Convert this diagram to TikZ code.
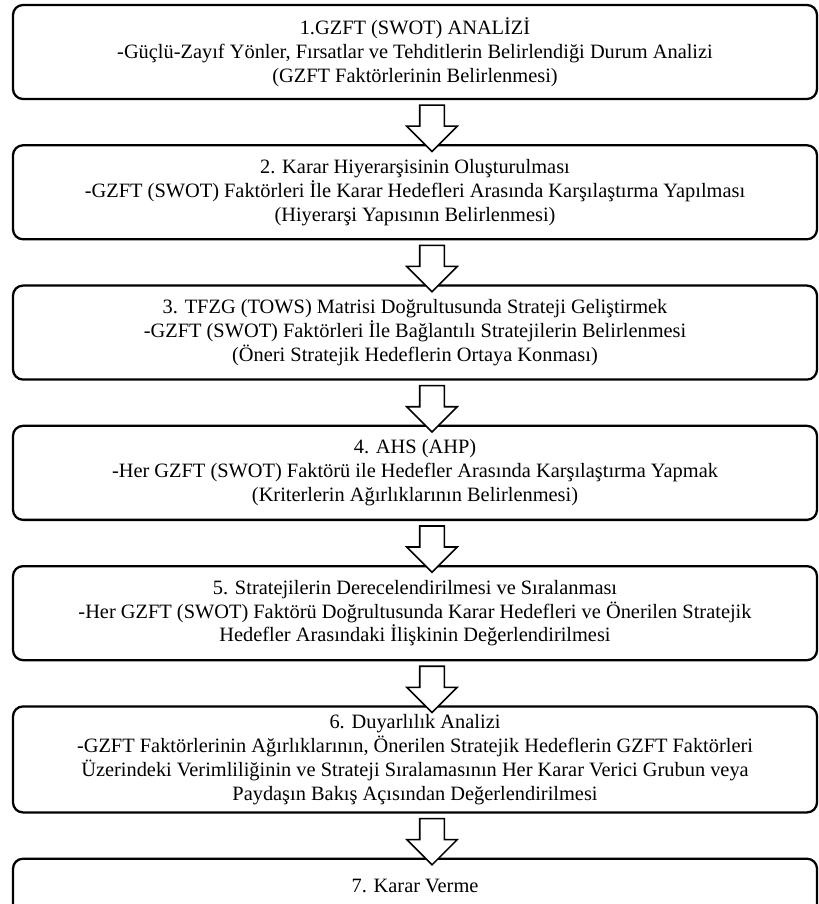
\documentclass[tikz,border=0pt]{standalone}
\usepackage{fontspec}
\setmainfont{Liberation Serif}
\usetikzlibrary{shapes,arrows,positioning}
\tikzstyle{stage} = [rectangle, rounded corners=0.2cm, minimum width=16.08cm, minimum height=1.88cm, inner ysep=2pt, line width=1.3pt, draw=black, align=center, font=\fontsize{11.6}{13.6}\selectfont]
\tikzstyle{hollow} = [single arrow, draw=black, fill=white, line width=0.9pt, rotate=-90, inner xsep=0pt, inner ysep=0.23cm, minimum height=0.926cm, single arrow head extend=0.26cm]

\begin{document}
\begin{tikzpicture}
        \useasboundingbox (0,0) rectangle (16.36,-18.08);

        \node (1) [stage] at (8.3,-1.04) {1.GZFT (SWOT) ANALİZİ \\ -Güçlü-Zayıf Yönler, Fırsatlar ve Tehditlerin Belirlendiği Durum Analizi \\ (GZFT Faktörlerinin Belirlenmesi)};
        \node (2) [stage, below=0.88cm of 1] {2. Karar Hiyerarşisinin Oluşturulması \\ -GZFT (SWOT) Faktörleri İle Karar Hedefleri Arasında Karşılaştırma Yapılması \\ (Hiyerarşi Yapısının Belirlenmesi)};
        \node (3) [stage, below=0.88cm of 2] {3. TFZG (TOWS) Matrisi Doğrultusunda Strateji Geliştirmek \\ -GZFT (SWOT) Faktörleri İle Bağlantılı Stratejilerin Belirlenmesi \\ (Öneri Stratejik Hedeflerin Ortaya Konması)};
        \node (4) [stage, below=0.88cm of 3] {4. AHS (AHP) \\ -Her GZFT (SWOT) Faktörü ile Hedefler Arasında Karşılaştırma Yapmak \\ (Kriterlerin Ağırlıklarının Belirlenmesi)};
        \node (5) [stage, below=0.88cm of 4] {5. Stratejilerin Derecelendirilmesi ve Sıralanması \\ -Her GZFT (SWOT) Faktörü Doğrultusunda Karar Hedefleri ve Önerilen Stratejik \\ Hedefler Arasındaki İlişkinin Değerlendirilmesi};
        \node (6) [stage, below=0.88cm of 5, minimum height=2.12cm] {6. Duyarlılık Analizi \\ -GZFT Faktörlerinin Ağırlıklarının, Önerilen Stratejik Hedeflerin GZFT Faktörleri \\ Üzerindeki Verimliliğinin ve Strateji Sıralamasının Her Karar Verici Grubun veya \\ Paydaşın Bakış Açısından Değerlendirilmesi};
        \node (7) [stage, below=0.88cm of 6, minimum height=1.1cm] {7. Karar Verme};

        \path ([xshift=0.34cm]1.south) -- ([xshift=0.34cm]2.north) node[midway, hollow] {};
        \path ([xshift=0.34cm]2.south) -- ([xshift=0.34cm]3.north) node[midway, hollow] {};
        \path ([xshift=0.34cm]3.south) -- ([xshift=0.34cm]4.north) node[midway, hollow] {};
        \path ([xshift=0.34cm]4.south) -- ([xshift=0.34cm]5.north) node[midway, hollow] {};
        \path ([xshift=0.34cm]5.south) -- ([xshift=0.34cm]6.north) node[midway, hollow] {};
        \path ([xshift=0.34cm]6.south) -- ([xshift=0.34cm]7.north) node[midway, hollow] {};

    \end{tikzpicture}
\end{document}
